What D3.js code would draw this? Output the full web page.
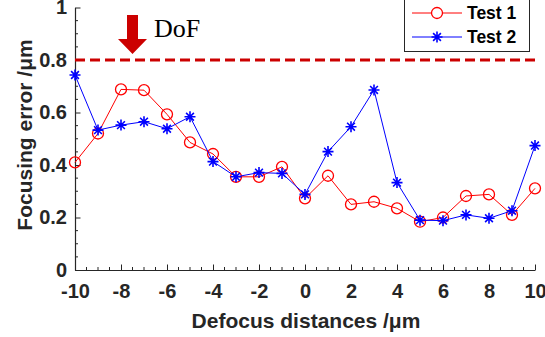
<!DOCTYPE html>
<html>
<head>
<meta charset="utf-8">
<script src="https://cdn.jsdelivr.net/npm/d3@7"></script>
<style>
  body { margin: 0; background: #fff; }
  svg { display: block; }
</style>
</head>
<body>
<svg id="chart" width="545" height="337"></svg>
<script>
// defocus positions and focusing error for both tests
const defocus = [-10, -9, -8, -7, -6, -5, -4, -3, -2, -1, 0, 1, 2, 3, 4, 5, 6, 7, 8, 9, 10];
const test1 = [0.41, 0.52, 0.688, 0.685, 0.593, 0.486, 0.442, 0.355, 0.355, 0.393, 0.273, 0.359, 0.25, 0.26, 0.235, 0.184, 0.2, 0.282, 0.288, 0.21, 0.311];
const test2 = [0.743, 0.533, 0.552, 0.565, 0.538, 0.584, 0.413, 0.355, 0.371, 0.368, 0.288, 0.451, 0.546, 0.686, 0.333, 0.19, 0.188, 0.21, 0.197, 0.226, 0.474];
const xTicks = [-10, -8, -6, -4, -2, 0, 2, 4, 6, 8, 10];
const yTicks = [0, 0.2, 0.4, 0.6, 0.8, 1];
const dofLevel = 0.8;
const dofArrowX = -7.5;
const seriesNames = ['Test 1', 'Test 2'];

const svg = d3.select('#chart');
const axisColor = '#262626';
const font = '"Liberation Sans", Arial, sans-serif';

const x = d3.scaleLinear().domain([-10, 10]).range([75, 535]);
const y = d3.scaleLinear().domain([0, 1]).range([270, 7.5]);

// minor ticks
const xMinor = d3.range(-10, 10.01, 0.5).filter(v => !xTicks.includes(v));
const yMinor = d3.range(0, 1.001, 0.05).map(v => +v.toFixed(2)).filter(v => !yTicks.includes(v));

const gx = svg.append('g').attr('transform', `translate(0,${y(0)})`);
gx.call(d3.axisBottom(x).tickValues(xTicks).tickSizeInner(-5.5).tickSizeOuter(0).tickPadding(14).tickFormat(d => String(d)));
gx.selectAll('.minor').data(xMinor).join('line')
    .attr('x1', d => x(d)).attr('x2', d => x(d))
    .attr('y1', 0).attr('y2', -3)
    .attr('stroke', axisColor);

const gy = svg.append('g').attr('transform', `translate(${x(-10)},0)`);
gy.call(d3.axisLeft(y).tickValues(yTicks).tickSizeInner(-5.5).tickSizeOuter(0).tickPadding(8).tickFormat(d => d === 0 || d === 1 ? d : d.toFixed(1)));
gy.selectAll('.minor').data(yMinor).join('line')
    .attr('x1', 0).attr('x2', 3)
    .attr('y1', d => y(d)).attr('y2', d => y(d))
    .attr('stroke', axisColor);

[gx, gy].forEach(g => {
    g.select('.domain').attr('stroke', axisColor).attr('stroke-width', 1.2);
    g.selectAll('.tick line').attr('stroke', axisColor);
    g.selectAll('.tick text')
        .attr('fill', axisColor)
        .style('font-family', font)
        .style('font-weight', 'bold')
        .style('font-size', '20px');
});

// axis labels
svg.append('text')
    .attr('x', 306).attr('y', 328)
    .attr('text-anchor', 'middle')
    .attr('fill', axisColor)
    .style('font-family', font).style('font-weight', 'bold').style('font-size', '21px')
    .text('Defocus distances /μm');

svg.append('text')
    .attr('transform', 'translate(32,135) rotate(-90)')
    .attr('text-anchor', 'middle')
    .attr('fill', axisColor)
    .style('font-family', font).style('font-weight', 'bold').style('font-size', '21px')
    .text('Focusing error /μm');

// DoF dashed line
svg.append('line')
    .attr('x1', x(-10)).attr('x2', x(10))
    .attr('y1', y(dofLevel)).attr('y2', y(dofLevel))
    .attr('stroke', '#cc0000')
    .attr('stroke-width', 3)
    .attr('stroke-dasharray', '10,5');

// DoF arrow
const ax = x(dofArrowX);
svg.append('path')
    .attr('d', `M${ax - 5.5},15 H${ax + 5.5} V39 H${ax + 14.5} L${ax},54 L${ax - 14.5},39 H${ax - 5.5} Z`)
    .attr('fill', '#cc0000');

svg.append('text')
    .attr('x', 154).attr('y', 37)
    .attr('fill', '#000')
    .style('font-family', '"Liberation Serif", "Times New Roman", serif')
    .style('font-size', '26px')
    .text('DoF');

const line = d3.line().x((d, i) => x(defocus[i])).y(d => y(d));

const starPath = r => {
    const d = r * Math.SQRT1_2;
    return `M${-r},0H${r}M0,${-r}V${r}M${-d},${-d}L${d},${d}M${-d},${d}L${d},${-d}`;
};

// Test 1
svg.append('path').datum(test1)
    .attr('d', line)
    .attr('fill', 'none').attr('stroke', '#ff0000').attr('stroke-width', 1);
svg.selectAll('.c1').data(test1).join('circle')
    .attr('cx', (d, i) => x(defocus[i])).attr('cy', d => y(d))
    .attr('r', 5.5)
    .attr('fill', 'none').attr('stroke', '#ff0000').attr('stroke-width', 1.3);

// Test 2
svg.append('path').datum(test2)
    .attr('d', line)
    .attr('fill', 'none').attr('stroke', '#0000ff').attr('stroke-width', 1);
svg.selectAll('.s2').data(test2).join('path')
    .attr('transform', (d, i) => `translate(${x(defocus[i])},${y(d)})`)
    .attr('d', starPath(5.5))
    .attr('fill', 'none').attr('stroke', '#0000ff').attr('stroke-width', 1.6);

// legend
const lg = svg.append('g');
lg.append('rect')
    .attr('x', 404.5).attr('y', -1).attr('width', 125).attr('height', 52.5)
    .attr('fill', '#fff').attr('stroke', axisColor).attr('stroke-width', 1);
const legendItems = [
    { name: seriesNames[0], color: '#ff0000', y: 13 },
    { name: seriesNames[1], color: '#0000ff', y: 37 }
];
legendItems.forEach((it, i) => {
    lg.append('line')
        .attr('x1', 412).attr('x2', 462).attr('y1', it.y).attr('y2', it.y)
        .attr('stroke', it.color).attr('stroke-width', 1);
    if (i === 0) {
        lg.append('circle').attr('cx', 437).attr('cy', it.y).attr('r', 5.5)
            .attr('fill', '#fff').attr('stroke', it.color).attr('stroke-width', 1.3);
    } else {
        lg.append('path').attr('transform', `translate(437,${it.y})`).attr('d', starPath(5.5))
            .attr('fill', 'none').attr('stroke', it.color).attr('stroke-width', 1.6);
    }
    lg.append('text')
        .attr('x', 467).attr('y', it.y + 6)
        .attr('fill', '#000')
        .style('font-family', font).style('font-weight', 'bold').style('font-size', '17.5px')
        .text(it.name);
});
</script>
</body>
</html>
